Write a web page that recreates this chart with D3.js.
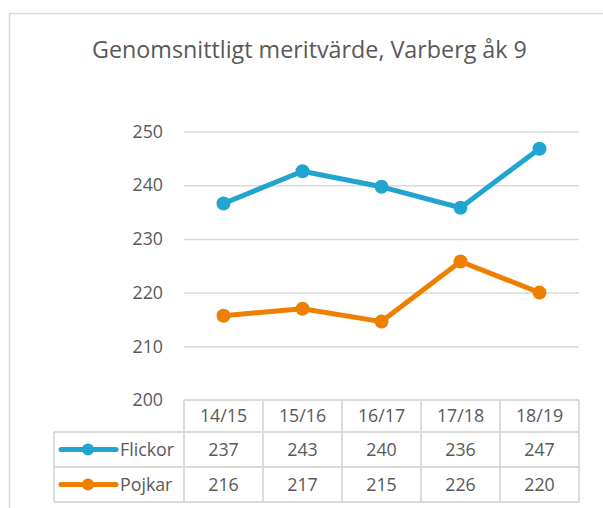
<!DOCTYPE html>
<html>
<head>
<meta charset="utf-8">
<script src="https://cdn.jsdelivr.net/npm/d3@7"></script>
<style>
  html, body { margin: 0; padding: 0; background: #fff; }
  svg { display: block; }
  text { font-family: "Open Sans", sans-serif; fill: #595959; }
</style>
</head>
<body>
<svg id="chart" width="603" height="508"></svg>
<script>
const title = "Genomsnittligt meritvärde, Varberg åk 9";
const categories = ["14/15", "15/16", "16/17", "17/18", "18/19"];
const flickor = [236.6, 242.6, 239.7, 235.8, 246.8];
const pojkar = [215.7, 217.0, 214.6, 225.8, 220.0];
const seriesNames = ["Flickor", "Pojkar"];
const seriesColors = ["#21a4d0", "#ee7f00"];
const yTicks = [200, 210, 220, 230, 240, 250];

const series = [flickor, pojkar].map((vals, i) => ({ name: seriesNames[i], color: seriesColors[i], values: vals }));

const svg = d3.select("#chart");
const grid = "#d9d9d9";
const fs = "17.8px";

// outer chart border
svg.append("path").attr("d", "M9.5,508 L9.5,13.5 L603,13.5")
  .attr("fill", "none").attr("stroke", grid).attr("stroke-width", 1.5);

// title
const t = svg.append("text").attr("x", 309.5).attr("y", 58).attr("text-anchor", "middle")
  .style("font-size", "20px").text(title);
const tl = t.node().getComputedTextLength();
t.style("font-size", (20 * 435 / tl) + "px");

const x = d3.scaleBand().domain(categories).range([184, 579]);
const y = d3.scaleLinear().domain([200, 250]).range([400, 131.5]);

// gridlines + y labels via axis
const yAxis = d3.axisLeft(y).tickValues(yTicks).tickSize(0).tickPadding(21);
const ya = svg.append("g").attr("transform", "translate(184,0)").call(yAxis);
ya.select(".domain").remove();
ya.selectAll("text").style("font-size", fs).style("font-family", "Open Sans").attr("fill", "#595959");
ya.selectAll(".tick").filter(d => d > 200).append("line")
  .attr("x1", 0).attr("x2", 395).attr("stroke", grid).attr("stroke-width", 1.5);

// lines + markers
const line = d3.line().x((d, i) => x(categories[i]) + x.bandwidth() / 2).y(d => y(d));
series.forEach(s => {
  svg.append("path").datum(s.values).attr("d", line)
    .attr("fill", "none").attr("stroke", s.color).attr("stroke-width", 5).attr("stroke-linejoin", "round");
  svg.selectAll(null).data(s.values).enter().append("circle")
    .attr("cx", (d, i) => x(categories[i]) + x.bandwidth() / 2)
    .attr("cy", d => y(d)).attr("r", 7).attr("fill", s.color);
});

// data table
const rowTops = [400, 432, 467, 502];
const tableLeft = 54;
const tg = svg.append("g");
function hline(y0, x0, x1) { tg.append("line").attr("x1", x0).attr("x2", x1).attr("y1", y0).attr("y2", y0).attr("stroke", grid).attr("stroke-width", 1.8); }
function vline(x0, y0, y1) { tg.append("line").attr("x1", x0).attr("x2", x0).attr("y1", y0).attr("y2", y1).attr("stroke", grid).attr("stroke-width", 1.8); }
hline(rowTops[0], x.range()[0], x.range()[1]);
hline(rowTops[1], tableLeft, x.range()[1]);
hline(rowTops[2], tableLeft, x.range()[1]);
hline(rowTops[3], tableLeft, x.range()[1]);
vline(tableLeft, rowTops[1], rowTops[3]);
categories.forEach(c => vline(x(c), rowTops[0], rowTops[3]));
vline(x.range()[1], rowTops[0], rowTops[3]);

// header
categories.forEach(c => {
  tg.append("text").attr("x", x(c) + x.bandwidth() / 2).attr("y", 422)
    .attr("text-anchor", "middle").style("font-size", fs).text(c);
});
// rows
const fmt = d3.format(".0f");
series.forEach((s, r) => {
  const top = rowTops[r + 1], bot = rowTops[r + 2];
  const cy = (top + bot) / 2;
  tg.append("line").attr("x1", 61).attr("x2", 116).attr("y1", cy).attr("y2", cy)
    .attr("stroke", s.color).attr("stroke-width", 5).attr("stroke-linecap", "round");
  tg.append("circle").attr("cx", 88).attr("cy", cy).attr("r", 6).attr("fill", s.color);
  tg.append("text").attr("x", 120).attr("y", cy + 6.5).style("font-size", fs).text(s.name);
  s.values.forEach((v, i) => {
    tg.append("text").attr("x", x(categories[i]) + x.bandwidth() / 2).attr("y", cy + 6.5)
      .attr("text-anchor", "middle").style("font-size", fs).text(fmt(v));
  });
});
</script>
</body>
</html>
